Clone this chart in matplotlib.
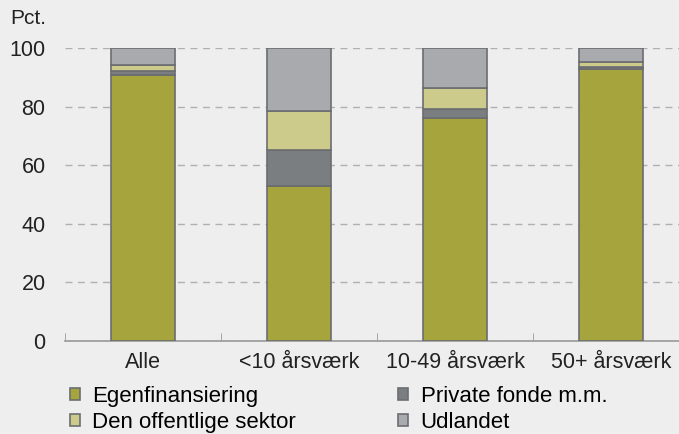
import numpy as np
import matplotlib.pyplot as plt

plt.rcParams['font.family'] = ['Liberation Sans', 'DejaVu Sans']

categories = ["Alle", "<10 årsværk", "10-49 årsværk", "50+ årsværk"]
egen = [90.8, 53.0, 76.0, 92.7]
private = [1.2, 12.2, 3.2, 0.7]
offentlig = [2.2, 13.4, 7.3, 1.7]
udland = [5.8, 21.4, 13.5, 4.9]

series = [("Egenfinansiering", egen, "#a6a43c"),
          ("Private fonde m.m.", private, "#7b7e81"),
          ("Den offentlige sektor", offentlig, "#cccb8c"),
          ("Udlandet", udland, "#a8aaad")]

bg = "#eeeeee"
fig = plt.figure(figsize=(6.79, 4.34), dpi=100, facecolor=bg)
ax = fig.add_axes([65/679, 1-341/434, 624/679, 293/434], facecolor=bg)

x = np.arange(len(categories))
bottom = np.zeros(len(categories))
handles = []
for name, vals, col in series:
    b = ax.bar(x, vals, width=0.41, bottom=bottom, color=col,
               edgecolor="#6b6d70", linewidth=1.2, label=name, zorder=3)
    bottom += np.array(vals)
    handles.append(b)

ax.set_xlim(-0.5, 3.5)
ax.set_ylim(0, 100)
ax.set_yticks(range(0, 101, 20))
ax.yaxis.grid(True, linestyle=(0, (5, 4)), color="#b0b0b0", linewidth=1, zorder=0)
ax.tick_params(axis='y', length=0, labelsize=15.5, pad=14, colors="#222222")
ax.set_xticks(x)
ax.set_xticklabels(categories)
ax.set_xticks(np.arange(-0.5, 4, 1), minor=True)
ax.tick_params(axis='x', which='major', length=0, labelsize=15.5, pad=8, colors="#222222")
ax.tick_params(axis='x', which='minor', length=6, direction='in', color="#999999")
for s in ["left", "right", "top"]:
    ax.spines[s].set_visible(False)
ax.spines["bottom"].set_color("#999999")
ax.spines["bottom"].set_linewidth(1.2)

fig.text(10/679, 1-19/434, "Pct.", fontsize=15, va="center", ha="left", color="#222222")

order = [handles[0], handles[2], handles[1], handles[3]]
labels = ["Egenfinansiering", "Den offentlige sektor", "Private fonde m.m.", "Udlandet"]
fig.legend(order, labels, ncol=2, loc="upper left", bbox_to_anchor=(59/679, 1-375/434),
           frameon=False, fontsize=16, handlelength=0.45, handleheight=0.45,
           handletextpad=0.55, columnspacing=4.6, labelspacing=0.2, borderpad=0)

fig.savefig("out.png", dpi=100, facecolor=bg)
